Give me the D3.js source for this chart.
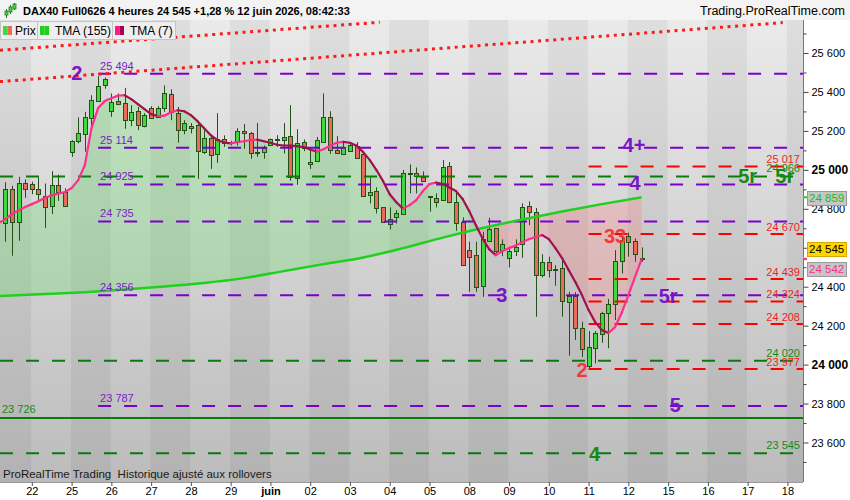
<!DOCTYPE html>
<html>
<head>
<meta charset="utf-8">
<script src="https://cdn.jsdelivr.net/npm/d3@7"></script>
<style>
  body { margin: 0; background: #fff; }
  svg { display: block; font-family: "Liberation Sans", Arial, sans-serif; }
</style>
</head>
<body>
<div id="chart"></div>
<script>
// 4h candles, index 0 = first bar of 22 mai
var firstIndex = -4;
var opens = [24725,24900,24730,24930,24925,24900,24865,24815,24922,24887,
  25087,25144,25183,25269,25358,25431,25300,25356,25341,25255,
  25301,25224,25320,25272,25320,25392,25293,25200,25223,25228,
  25094,25161,25079,25159,25142,25139,25197,25187,25091,25087,
  25125,25156,25153,25173,24956,25141,25028,25043,25142,25269,
  25101,25084,25098,25125,25081,24868,24889,24807,24721,24756,
  24776,24985,24982,24961,24864,24856,24848,25019,24833,24730,
  24588,24561,24400,24636,24699,24584,24545,24584,24617,24814,
  24785,24463,24529,24490,24494,24320,24352,24186,23993,24084,
  24157,24263,24309,24532,24661,24636,24543];
var highs = [24937,24918,24964,24951,24939,24961,24930,24993,24976,24905,
  25152,25269,25298,25383,25481,25474,25392,25392,25421,25332,
  25323,25291,25327,25327,25433,25414,25323,25255,25240,25240,
  25204,25178,25291,25177,25149,25214,25235,25195,25241,25125,
  25161,25178,25240,25332,25209,25156,25098,25169,25392,25301,
  25173,25144,25142,25142,25086,24961,24910,24809,24807,24793,
  24999,25028,25012,24992,24865,24879,25050,25040,24882,24756,
  24631,24631,24682,24754,24701,24643,24605,24643,24828,24838,
  24804,24567,24554,24510,24537,24374,24372,24220,24172,24172,
  24271,24337,24588,24656,24677,24648,24602];
var lows = [24631,24559,24636,24856,24875,24845,24702,24773,24841,24810,
  25067,25136,25093,25221,25353,25416,25272,25332,25211,25224,
  25204,25218,25265,25269,25298,25255,25139,25183,25187,24954,
  25081,25005,25036,25118,25125,25125,25108,25057,25067,25057,
  25122,25118,25084,24944,24923,25096,25005,25043,25139,25082,
  25081,25081,25093,25060,24862,24828,24776,24728,24694,24725,
  24776,24879,24879,24937,24785,24807,24845,24829,24687,24506,
  24374,24374,24348,24631,24571,24557,24499,24557,24548,24716,
  24246,24448,24448,24405,24246,24046,24126,24039,23982,24006,
  24112,24084,24229,24468,24554,24528,24528];
var closes = [24900,24733,24930,24900,24900,24874,24810,24922,24887,24815,
  25146,25187,25269,25361,25433,25464,25348,25341,25255,25298,
  25230,25281,25269,25320,25397,25298,25207,25238,25213,25094,
  25166,25074,25156,25136,25137,25197,25187,25084,25084,25110,
  25156,25154,25168,24964,25136,25110,25040,25151,25269,25101,
  25084,25118,25127,25064,24867,24884,24802,24730,24749,24776,
  24985,24983,24969,24939,24862,24836,25016,24833,24725,24510,
  24550,24397,24643,24696,24579,24617,24583,24605,24807,24785,
  24463,24529,24489,24488,24326,24352,24186,24078,24089,24160,
  24263,24309,24532,24639,24628,24567,24545];

// TMA (7), one value per bar, starting one bar before the first visible candle
var tma7Start = -5;
var tma7 = [24727,24747,24773,24791,24809,24824,24839,24857,24870,24878,24886,
  24906,24947,25024,25214,25317,25353,25368,25381,25383,25363,
  25337,25312,25286,25276,25278,25296,25306,25301,25281,25250,
  25214,25178,25153,25140,25136,25142,25147,25153,25155,25147,
  25139,25129,25125,25124,25122,25117,25104,25094,25106,25124,
  25139,25144,25139,25124,25091,25050,24999,24942,24875,24834,
  24801,24819,24845,24891,24927,24935,24927,24909,24891,24850,
  24788,24716,24647,24593,24562,24583,24598,24611,24629,24644,
  24655,24665,24644,24598,24547,24485,24424,24357,24280,24218,
  24177,24162,24193,24265,24357,24449,24542];

// TMA (155), read every day
var tma155Idx = [-5,2,8,14,20,26,32,38,44,50,56,62,68,74,80,86,92];
var tma155 = [24352,24362,24372,24385,24401,24419,24444,24480,24516,24550,24598,24652,24701,24745,24786,24824,24859];

var dayLabels = ["22","25","26","27","28","29","juin","02","03","04","05","08","09","10","11","12","15","16","17","18"];
var barsPerDay = 6;

var priceTicks = [23600,23800,24000,24200,24400,24800,25000,25200,25400,25600];
var hiddenTicks = [24600];
var minorTicks = [23500,23700,23900,24100,24300,24500,24700,24900,25100,25300,25500,25700];
var boldTicks = [24000, 25000];

var purpleLevels = [25494, 25114, 24925, 24735, 24356, 23787];
var purpleFrom = 10;
var greenLevels = [24966, 24020, 23545];
var greenSolid = 23726;
var redLevels = [25017, 24670, 24439, 24324, 24208, 23977];
var redFrom = 84;

// dotted trend lines: [index, price] pairs
var trendA = [[-4.8, 25614], [52.5, 25758]];
var trendB = [[-4.8, 25453], [113.3, 25756]];

var waveText = ["2", "4+", "4", "3", "5r", "5", "5r", "5r", "4", "33", "2"];
var waveIdx = [6.8, 90.85, 91, 70.9, 96, 97.1, 108, 113.6, 84.9, 88, 83];
var wavePrice = [25460, 25091, 24896, 24321, 24316, 23757, 24932, 24932, 23505, 24624, 23936];
var waveGroup = ["p", "p", "p", "p", "p", "p", "g", "g", "g", "r", "r"];

var lastPrice = 24545;

var width = 850, height = 500;
var plotW = 803, plotTop = 20, plotBottom = 482;
var colors = { p: "#7a14c8", g: "#138a13", r: "#f23a3a" };

var fmt = d3.formatLocale({ decimal: ",", thousands: " ", grouping: [3], currency: ["", ""] }).format(",d");

var x = d3.scaleLinear().domain([-4.8, 116.35]).range([0, plotW]);
var y = d3.scaleLinear().domain([23600, 25600]).range([442.5, 53]);

var svg = d3.select("#chart").append("svg")
  .attr("width", width)
  .attr("height", height);

var defs = svg.append("defs");
var grad = defs.append("linearGradient").attr("id", "bg")
  .attr("x1", 0).attr("y1", 0).attr("x2", 0).attr("y2", 1);
grad.append("stop").attr("offset", "0%").attr("stop-color", "#eaeaea");
grad.append("stop").attr("offset", "100%").attr("stop-color", "#bcbcbc");

defs.append("clipPath").attr("id", "plotClip")
  .append("rect").attr("x", 0).attr("y", plotTop).attr("width", plotW).attr("height", plotBottom - plotTop);

svg.append("rect").attr("width", width).attr("height", height).attr("fill", "#fff");

var plot = svg.append("g").attr("clip-path", "url(#plotClip)");

plot.append("rect")
  .attr("x", 0).attr("y", plotTop)
  .attr("width", plotW).attr("height", plotBottom - plotTop)
  .attr("fill", "url(#bg)");

// day bands
var days = d3.range(-1, dayLabels.length);
plot.selectAll(".band").data(days.filter(function (k) { return k % 2 !== 0; }))
  .enter().append("rect")
  .attr("x", function (k) { return x(k * barsPerDay - 0.1); })
  .attr("width", function (k) { return x((k + 1) * barsPerDay) - x(k * barsPerDay); })
  .attr("y", plotTop).attr("height", plotBottom - plotTop)
  .attr("fill", "#000").attr("opacity", 0.05);

// fills between TMA 7 and TMA 155
var t7 = tma7.map(function (v, i) { return { i: tma7Start + i, v: v }; });
var t155 = tma155.map(function (v, i) { return { i: tma155Idx[i], v: v }; });
var curve = d3.curveMonotoneX;

defs.append("clipPath").attr("id", "above155").append("path")
  .attr("d", d3.area().curve(curve).x(function (d) { return x(d.i); })
    .y0(plotTop).y1(function (d) { return y(d.v); })(t155));
defs.append("clipPath").attr("id", "below155").append("path")
  .attr("d", d3.area().curve(curve).x(function (d) { return x(d.i); })
    .y0(plotBottom).y1(function (d) { return y(d.v); })(t155));

plot.append("g").attr("clip-path", "url(#above155)").append("path")
  .attr("d", d3.area().curve(curve).x(function (d) { return x(d.i); })
    .y0(plotBottom).y1(function (d) { return y(d.v); })(t7))
  .attr("fill", "rgb(90,225,90)").attr("opacity", 0.27);
plot.append("g").attr("clip-path", "url(#below155)").append("path")
  .attr("d", d3.area().curve(curve).x(function (d) { return x(d.i); })
    .y0(plotTop).y1(function (d) { return y(d.v); })(t7))
  .attr("fill", "rgb(255,110,110)").attr("opacity", 0.25);

// candles
var candles = opens.map(function (o, i) {
  return { i: firstIndex + i, o: o, h: highs[i], l: lows[i], c: closes[i] };
});
function cx(d) { return Math.round(x(d.i)); }

plot.selectAll(".wick").data(candles).enter().append("line")
  .attr("x1", function (d) { return cx(d) + 0.5; })
  .attr("x2", function (d) { return cx(d) + 0.5; })
  .attr("y1", function (d) { return y(d.h); })
  .attr("y2", function (d) { return y(d.l); })
  .attr("stroke", "#24501a").attr("stroke-width", 1);

plot.selectAll(".body").data(candles).enter().append("rect")
  .attr("x", function (d) { return cx(d) - 1.5; })
  .attr("width", 4)
  .attr("y", function (d) { return Math.round(y(Math.max(d.o, d.c))) + 0.5; })
  .attr("height", function (d) { return Math.max(1, Math.round(Math.abs(y(d.o) - y(d.c)))); })
  .attr("fill", function (d) { return d.c >= d.o ? "#3fd93f" : "#ea6a5c"; })
  .attr("stroke", "#24501a").attr("stroke-width", 1);

// horizontal levels
function level(v, from, color, dash) {
  plot.append("line")
    .attr("x1", from).attr("x2", plotW)
    .attr("y1", y(v)).attr("y2", y(v))
    .attr("stroke", color).attr("stroke-width", 2)
    .attr("stroke-dasharray", dash);
}
purpleLevels.forEach(function (v) { level(v, x(purpleFrom), "#7a00cc", "13,13"); });
greenLevels.forEach(function (v) { level(v, 0, "#0a7a0a", "13,13"); });
redLevels.forEach(function (v) { level(v, x(redFrom), "#ff0000", "13,13"); });
level(greenSolid, 0, "#0a7a0a", null);

// dotted trend lines
[trendA, trendB].forEach(function (t) {
  plot.append("line")
    .attr("x1", x(t[0][0])).attr("y1", y(t[0][1]))
    .attr("x2", x(t[1][0])).attr("y2", y(t[1][1]))
    .attr("stroke", "#ff1a1a").attr("stroke-width", 3)
    .attr("stroke-dasharray", "3,4.6");
});

// TMA 155
plot.append("path")
  .attr("d", d3.line().curve(curve).x(function (d) { return x(d.i); }).y(function (d) { return y(d.v); })(t155))
  .attr("fill", "none").attr("stroke", "#1fd01f").attr("stroke-width", 2.5);

// TMA 7, pink when rising, crimson when falling
var segs = d3.range(t7.length - 1).map(function (k) { return [t7[k], t7[k + 1]]; });
plot.selectAll(".tma7").data(segs).enter().append("path")
  .attr("d", function (s) { return d3.line().x(function (d) { return x(d.i); }).y(function (d) { return y(d.v); })(s); })
  .attr("fill", "none")
  .attr("stroke", function (s) { return s[1].v >= s[0].v ? "#ff2d8c" : "#a3104e"; })
  .attr("stroke-width", 2.2).attr("stroke-linecap", "round");

// level value labels
var lab = plot.append("g").attr("font-size", 11);
purpleLevels.forEach(function (v) {
  lab.append("text").attr("x", x(purpleFrom) + 2).attr("y", y(v) - 4)
    .attr("fill", "#7a22c4").text(fmt(v));
});
lab.append("text").attr("x", 2).attr("y", y(greenSolid) - 5).attr("fill", "#138a13").text(fmt(greenSolid));
redLevels.forEach(function (v) {
  lab.append("text").attr("x", 800).attr("y", y(v) - 3.5).attr("text-anchor", "end")
    .attr("fill", "#f01e1e").text(fmt(v));
});
greenLevels.forEach(function (v) {
  lab.append("text").attr("x", 800).attr("y", y(v) - 4).attr("text-anchor", "end")
    .attr("fill", "#138a13").text(fmt(v));
});

// wave labels
plot.selectAll(".wave").data(waveText).enter().append("text")
  .attr("x", function (d, i) { return x(waveIdx[i]); })
  .attr("y", function (d, i) { return y(wavePrice[i]); })
  .attr("text-anchor", "middle")
  .attr("font-size", 20).attr("font-weight", "bold")
  .attr("fill", function (d, i) { return colors[waveGroup[i]]; })
  .text(function (d) { return d; });

plot.append("text").attr("x", 3).attr("y", 478)
  .attr("font-size", 11.5).attr("fill", "#1a1a1a")
  .text("ProRealTime Trading\u00a0 Historique ajusté aux rollovers");

// right axis
svg.append("rect").attr("x", plotW).attr("y", plotTop).attr("width", width - plotW).attr("height", height - plotTop).attr("fill", "#fff");
svg.append("rect").attr("x", 0).attr("y", plotBottom).attr("width", width).attr("height", height - plotBottom).attr("fill", "#fff");

var yAxis = svg.append("g").attr("transform", "translate(" + (plotW + 0.5) + ",0)")
  .call(d3.axisRight(y).tickValues(priceTicks).tickSize(5).tickPadding(3).tickFormat(fmt));
var yMinor = svg.append("g").attr("transform", "translate(" + (plotW + 0.5) + ",0)")
  .call(d3.axisRight(y).tickValues(minorTicks).tickSize(3).tickFormat(""));
var yHidden = svg.append("g").attr("transform", "translate(" + (plotW + 0.5) + ",0)")
  .call(d3.axisRight(y).tickValues(hiddenTicks).tickSize(5).tickFormat(""));
yAxis.select(".domain").attr("stroke", "#777").attr("d", "M0," + plotTop + "V" + plotBottom);
yMinor.select(".domain").remove();
yHidden.select(".domain").remove();
svg.selectAll(".tick line").attr("stroke", "#444");
yAxis.selectAll(".tick text")
  .attr("font-family", "Liberation Sans, Arial, sans-serif")
  .attr("fill", "#000")
  .attr("font-size", function (d) { return boldTicks.indexOf(d) >= 0 ? 12 : 11; })
  .attr("font-weight", function (d) { return boldTicks.indexOf(d) >= 0 ? "bold" : "normal"; });

// bottom axis
var dayIdx = dayLabels.map(function (d, k) { return k * barsPerDay; });
var xAxis = svg.append("g").attr("transform", "translate(0," + plotBottom + ")")
  .call(d3.axisBottom(x).tickValues(dayIdx).tickSize(4).tickPadding(1)
    .tickFormat(function (d, k) { return dayLabels[k]; }));
xAxis.select(".domain").attr("stroke", "#999").attr("d", "M0,0.5H" + plotW);
xAxis.selectAll(".tick line").attr("stroke", "#555");
xAxis.selectAll(".tick text")
  .attr("font-family", "Liberation Sans, Arial, sans-serif")
  .attr("font-size", 11).attr("fill", "#000")
  .attr("font-weight", function (d, k) { return dayLabels[k] === "juin" ? "bold" : "normal"; });

// price tags on the axis
var tagA = y(lastPrice), tagB = y(tma7[tma7.length - 1]);
var mid = (tagA + tagB) / 2;
if (Math.abs(tagA - tagB) < 20) { tagA = mid - 10; tagB = mid + 10; }
function tag(yy, markY, label, fill, stroke, textColor, markColor) {
  svg.append("line").attr("x1", plotW).attr("x2", plotW + 4).attr("y1", markY).attr("y2", markY)
    .attr("stroke", markColor).attr("stroke-width", 2);
  svg.append("rect").attr("x", 807.5).attr("y", Math.round(yy - 7) + 0.5).attr("width", 39).attr("height", 14)
    .attr("fill", fill).attr("stroke", stroke);
  svg.append("text").attr("x", 809).attr("y", yy + 4).attr("font-size", 11.5)
    .attr("fill", textColor).text(label);
}
tag(y(tma155[tma155.length - 1]) + 1, y(tma155[tma155.length - 1]), fmt(tma155[tma155.length - 1]), "#c6c6c6", "#9a9a9a", "#1fb81f", "#1fd01f");
tag(tagA, y(lastPrice), fmt(lastPrice), "#ffd400", "#d9a800", "#000", "#ffd400");
tag(tagB, y(tma7[tma7.length - 1]), fmt(tma7[tma7.length - 1]), "#c6c6c6", "#9a9a9a", "#ff2d8c", "#ff2d8c");

// title bar
svg.append("rect").attr("x", 0).attr("y", 0).attr("width", width).attr("height", plotTop).attr("fill", "#f3f3f3");
var icon = svg.append("g");
[[5, 9, 14, 11, 15], [9, 5, 10, 7, 12], [13, 3, 6, 4, 9]].forEach(function (c) {
  icon.append("line").attr("x1", c[0] + 1.5).attr("x2", c[0] + 1.5).attr("y1", c[1]).attr("y2", c[2] + 4)
    .attr("stroke", "#2a7a2a");
  icon.append("rect").attr("x", c[0]).attr("y", c[3]).attr("width", 3).attr("height", c[4] - c[3])
    .attr("fill", "#3fd93f").attr("stroke", "#2a7a2a").attr("stroke-width", 0.8);
});
svg.append("text").attr("x", 23).attr("y", 15).attr("font-size", 11).attr("font-weight", "bold")
  .attr("fill", "#000").text("DAX40 Full0626 4 heures 24 545 +1,28 % 12 juin 2026, 08:42:33");
svg.append("text").attr("x", 845).attr("y", 15).attr("font-size", 12.5).attr("text-anchor", "end")
  .attr("fill", "#000").text("Trading.ProRealTime.com");

// legend
var legend = [
  { label: "Prix", x: 0, w: 37, tx: 15, c1: "#3fd93f", c2: "#ea6a5c" },
  { label: "TMA (155)", x: 37, w: 75, tx: 18, c1: "#1fd01f", c2: "#1fd01f" },
  { label: "TMA (7)", x: 112, w: 63, tx: 18, c1: "#ff1a8c", c2: "#a3004e" }
];
var lg = svg.selectAll(".lg").data(legend).enter().append("g");
lg.append("rect").attr("x", function (d) { return d.x + 0.5; }).attr("y", 21.5)
  .attr("width", function (d) { return d.w; }).attr("height", 18)
  .attr("fill", "#eeeeee").attr("stroke", "#c4c4c4");
lg.append("rect").attr("x", function (d) { return d.x + 3; }).attr("y", 26).attr("width", 4.5).attr("height", 9)
  .attr("fill", function (d) { return d.c1; });
lg.append("rect").attr("x", function (d) { return d.x + 7.5; }).attr("y", 26).attr("width", 4.5).attr("height", 9)
  .attr("fill", function (d) { return d.c2; });
lg.append("text").attr("x", function (d) { return d.x + d.tx; }).attr("y", 35)
  .attr("font-size", 12).attr("fill", "#000").text(function (d) { return d.label; });
</script>
</body>
</html>
